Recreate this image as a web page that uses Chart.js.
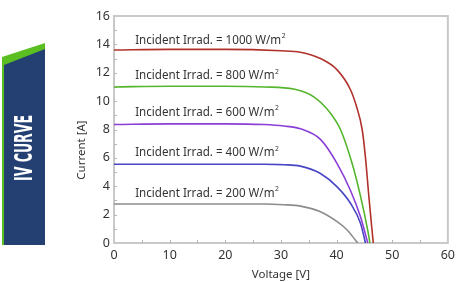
<!DOCTYPE html>
<html>
<head>
<meta charset="utf-8">
<script src="https://cdn.jsdelivr.net/npm/chart.js@4.4.1/dist/chart.umd.min.js"></script>
<style>
  html, body { margin: 0; padding: 0; background: #ffffff; }
  #ivChart { display: block; }
</style>
</head>
<body>
<canvas id="ivChart" width="460" height="282"></canvas>
<script>
// Voltage [V] / Current [A], one pair of arrays per curve
const volt1000 = [0, 10, 20, 30, 33.5, 37.1, 40.1, 42.5, 43.6, 44.6, 45.2, 45.8, 46.3, 46.6];
const amp1000  = [13.6, 13.65, 13.65, 13.55, 13.45, 13.0, 12.2, 10.8, 9.6, 8.0, 6.0, 3.3, 1.2, 0];

const volt800 = [0, 10, 20, 27, 32.3, 35.9, 38.9, 40.7, 42.8, 44.3, 45.6, 46.0];
const amp800  = [11.0, 11.05, 11.05, 11.0, 10.85, 10.3, 9.15, 8.0, 5.6, 3.3, 0.9, 0];

const volt600 = [0, 10, 20, 27, 30.5, 33.5, 37.1, 40.1, 42.5, 44.3, 45.2, 45.6];
const amp600  = [8.35, 8.4, 8.4, 8.35, 8.25, 8.05, 7.3, 5.6, 3.7, 1.85, 0.6, 0];

const volt400 = [0, 10, 20, 27, 30.5, 33.5, 37.1, 40.1, 42.5, 44.3, 45.2];
const amp400  = [5.55, 5.55, 5.55, 5.55, 5.52, 5.42, 4.9, 3.96, 2.8, 1.4, 0];

const volt200 = [0, 10, 20, 27, 30.5, 33.5, 37.1, 40.1, 41.9, 43.4, 43.8];
const amp200  = [2.75, 2.75, 2.75, 2.75, 2.7, 2.6, 2.2, 1.5, 0.92, 0.2, 0];

const irradLabels = ["1000", "800", "600", "400", "200"];
const labelVolt = 3.8;
const labelAmp = [14.3, 11.8, 9.2, 6.35, 3.5];

const xTicks = [0, 10, 20, 30, 40, 50, 60];
const yTicks = [0, 2, 4, 6, 8, 10, 12, 14, 16];

const lineColors = ["#b0322b", "#55b62e", "#8b3fd6", "#4a45c4", "#8c8c8c"];

function toPoints(xs, ys) {
    var pts = [];
    for (let i = 0; i < xs.length; i++) {
        pts.push({ x: xs[i], y: ys[i] });
    }
    return pts;
}

const curves = [
    toPoints(volt1000, amp1000),
    toPoints(volt800, amp800),
    toPoints(volt600, amp600),
    toPoints(volt400, amp400),
    toPoints(volt200, amp200)
];

const FONT = "'Noto Sans', 'Open Sans', sans-serif";

// banner on the left, frame, small inner ticks and curve labels
const decorPlugin = {
    id: 'decor',
    beforeDatasetsDraw(chart) {
        const ctx = chart.ctx;
        const area = chart.chartArea;
        const xs = chart.scales.x;
        const ys = chart.scales.y;

        // banner
        ctx.save();
        ctx.fillStyle = "#5bbf21";
        ctx.beginPath();
        ctx.moveTo(2, 57);
        ctx.lineTo(45, 43);
        ctx.lineTo(45, 245);
        ctx.lineTo(2, 245);
        ctx.closePath();
        ctx.fill();
        ctx.fillStyle = "#243f72";
        ctx.beginPath();
        ctx.moveTo(4, 65);
        ctx.lineTo(45, 49);
        ctx.lineTo(45, 245);
        ctx.lineTo(4, 245);
        ctx.closePath();
        ctx.fill();

        ctx.translate(25, 148);
        ctx.rotate(-Math.PI / 2);
        ctx.font = "bold 24px 'DejaVu Sans Condensed', 'DejaVu Sans', sans-serif";
        var w = ctx.measureText("IV CURVE").width;
        ctx.scale(66 / w, 1);
        ctx.fillStyle = "#ffffff";
        ctx.textAlign = "center";
        ctx.textBaseline = "middle";
        ctx.fillText("IV CURVE", 0, 1);
        ctx.restore();

        // y axis title
        ctx.save();
        ctx.translate(82, 150);
        ctx.rotate(-Math.PI / 2);
        ctx.font = "11.5px " + FONT;
        ctx.fillStyle = "#333333";
        ctx.textAlign = "center";
        ctx.textBaseline = "middle";
        ctx.fillText("Current [A]", 0, 0);
        ctx.restore();

        // frame
        ctx.save();
        ctx.strokeStyle = "#c9c9c9";
        ctx.lineWidth = 2;
        ctx.strokeRect(area.left, area.top, area.right - area.left, area.bottom - area.top);

        // inner ticks
        ctx.strokeStyle = "#b5b5b5";
        ctx.lineWidth = 1;
        ctx.beginPath();
        for (let v = 1; v < 16; v++) {
            var py = Math.round(ys.getPixelForValue(v)) + 0.5;
            ctx.moveTo(area.left, py);
            ctx.lineTo(area.left + 3, py);
        }
        for (let v = 5; v < 60; v += 5) {
            var px = Math.round(xs.getPixelForValue(v)) + 0.5;
            ctx.moveTo(px, area.bottom);
            ctx.lineTo(px, area.bottom - 3);
        }
        ctx.stroke();
        ctx.restore();
    },
    afterDatasetsDraw(chart) {
        const ctx = chart.ctx;
        const xs = chart.scales.x;
        const ys = chart.scales.y;
        ctx.save();
        ctx.fillStyle = "#333333";
        ctx.textBaseline = "middle";
        ctx.font = "12px " + FONT;
        var sx = 146 / ctx.measureText("Incident Irrad. = 1000 W/m").width;
        for (let i = 0; i < irradLabels.length; i++) {
            var txt = "Incident Irrad. = " + irradLabels[i] + " W/m";
            var px = xs.getPixelForValue(labelVolt);
            var py = ys.getPixelForValue(labelAmp[i]);
            ctx.save();
            ctx.translate(px, py);
            ctx.scale(sx, 1);
            ctx.font = "12px " + FONT;
            ctx.fillText(txt, 0, 0);
            var tw = ctx.measureText(txt).width;
            ctx.font = "7px " + FONT;
            ctx.fillText("2", tw + 0.5, -4);
            ctx.restore();
        }
        ctx.restore();
    }
};

const datasets = [];
for (let i = 0; i < curves.length; i++) {
    datasets.push({
        label: irradLabels[i] + " W/m²",
        data: curves[i],
        borderColor: lineColors[i],
        borderWidth: 1.6,
        pointRadius: 0,
        showLine: true,
        fill: false,
        cubicInterpolationMode: 'monotone'
    });
}

const ctx = document.getElementById('ivChart').getContext('2d');
const ivChart = new Chart(ctx, {
    type: 'scatter',
    data: { datasets: datasets },
    options: {
        responsive: false,
        animation: false,
        layout: { padding: { left: 0, top: 16, right: 12, bottom: 0 } },
        plugins: {
            legend: { display: false },
            tooltip: { enabled: false }
        },
        scales: {
            x: {
                type: 'linear',
                min: 0,
                max: 60,
                afterFit(scale) { scale.height = 39; },
                afterBuildTicks(scale) { scale.ticks = xTicks.map(v => ({ value: v })); },
                grid: { display: false, drawTicks: false },
                border: { display: false },
                ticks: { padding: 5, color: "#333333", font: { family: FONT, size: 12.5 } },
                title: {
                    display: true,
                    text: "Voltage [V]",
                    color: "#333333",
                    padding: 0,
                    font: { family: FONT, size: 11.5 }
                }
            },
            y: {
                type: 'linear',
                min: 0,
                max: 16,
                afterFit(scale) { scale.width = 114; },
                afterBuildTicks(scale) { scale.ticks = yTicks.map(v => ({ value: v })); },
                grid: { display: false, drawTicks: false },
                border: { display: false },
                ticks: { padding: 4, color: "#333333", font: { family: FONT, size: 12.5 } }
            }
        }
    },
    plugins: [decorPlugin]
});
</script>
</body>
</html>
